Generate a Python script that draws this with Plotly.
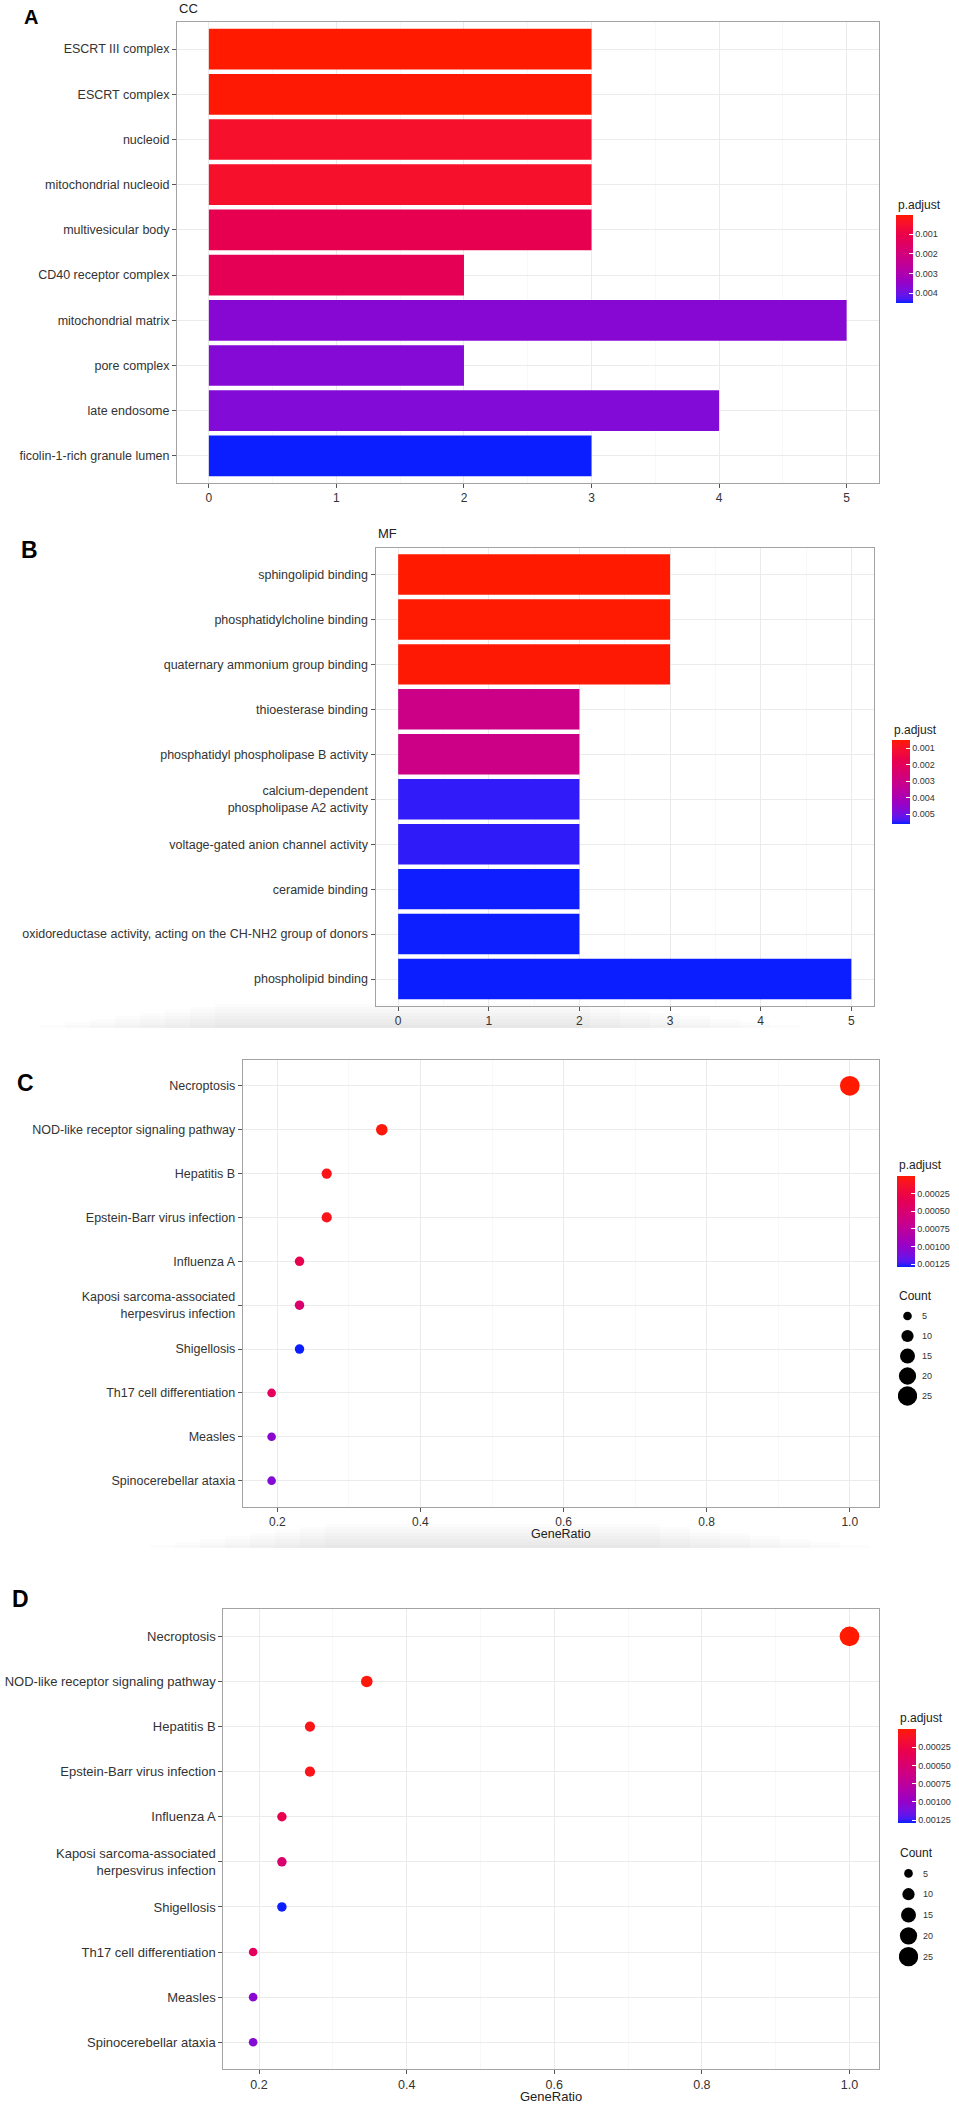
import plotly.graph_objects as go

W, H = 959, 2109

# ---------------- data ----------------
cc_terms = ["ESCRT III complex", "ESCRT complex", "nucleoid", "mitochondrial nucleoid",
            "multivesicular body", "CD40 receptor complex", "mitochondrial matrix",
            "pore complex", "late endosome", "ficolin-1-rich granule lumen"]
cc_count = [3, 3, 3, 3, 3, 2, 5, 2, 4, 3]
cc_padj = [0.000036, 0.00008, 0.00048, 0.00049, 0.00115, 0.00124, 0.00368, 0.00372, 0.00376, 0.0045]
cc_ticks = [0.001, 0.002, 0.003, 0.004]
cc_ticktext = ["0.001", "0.002", "0.003", "0.004"]

mf_terms = ["sphingolipid binding", "phosphatidylcholine binding",
            "quaternary ammonium group binding", "thioesterase binding",
            "phosphatidyl phospholipase B activity",
            "calcium-dependent<br>phospholipase A2 activity",
            "voltage-gated anion channel activity", "ceramide binding",
            "oxidoreductase activity, acting on the CH-NH2 group of donors",
            "phospholipid binding"]
mf_count = [3, 3, 3, 2, 2, 2, 2, 2, 2, 5]
mf_padj = [0.00050, 0.00052, 0.00055, 0.00300, 0.00301, 0.00545, 0.00546, 0.00558, 0.00559, 0.00560]
mf_ticks = [0.001, 0.002, 0.003, 0.004, 0.005]
mf_ticktext = ["0.001", "0.002", "0.003", "0.004", "0.005"]

kegg_terms = ["Necroptosis", "NOD-like receptor signaling pathway", "Hepatitis B",
              "Epstein-Barr virus infection", "Influenza A",
              "Kaposi sarcoma-associated<br>herpesvirus infection", "Shigellosis",
              "Th17 cell differentiation", "Measles", "Spinocerebellar ataxia"]
kegg_generatio = [1.0, 0.346, 0.269, 0.269, 0.231, 0.231, 0.231, 0.192, 0.192, 0.192]
kegg_count = [26, 9, 7, 7, 6, 6, 6, 5, 5, 5]
kegg_padj = [0.000001, 0.00003, 0.00006, 0.00007, 0.00032, 0.00049, 0.00129, 0.00038, 0.00104, 0.00107]
kegg_ticks = [0.00025, 0.0005, 0.00075, 0.001, 0.00125]
kegg_ticktext = ["0.00025", "0.00050", "0.00075", "0.00100", "0.00125"]
count_legend = [5, 10, 15, 20, 25]
generatio_ticks = [0.2, 0.4, 0.6, 0.8, 1.0]
generatio_ticktext = ["0.2", "0.4", "0.6", "0.8", "1.0"]

# ---------------- style helpers ----------------
FONT = "Liberation Sans, Arial, sans-serif"
TXT = "#333333"
GRID = "#EBEBEB"
MINOR = "#F3F3F3"
BORDER = "#A3A3A3"
SREF = 0.134


def fx(px):
    return px / W


def fy(py):
    return 1 - py / H


def srgb_to_lab(hexc):
    h = hexc.lstrip("#")
    rgb = [int(h[i:i + 2], 16) / 255 for i in (0, 2, 4)]
    lin = [c / 12.92 if c <= 0.04045 else ((c + 0.055) / 1.055) ** 2.4 for c in rgb]
    X = (0.4124 * lin[0] + 0.3576 * lin[1] + 0.1805 * lin[2]) / 0.95047
    Y = (0.2126 * lin[0] + 0.7152 * lin[1] + 0.0722 * lin[2])
    Z = (0.0193 * lin[0] + 0.1192 * lin[1] + 0.9505 * lin[2]) / 1.08883

    def f(t):
        return t ** (1 / 3) if t > 0.008856 else 7.787 * t + 16 / 116
    return (116 * f(Y) - 16, 500 * (f(X) - f(Y)), 200 * (f(Y) - f(Z)))


def lab_to_hex(L, a, b):
    fyv = (L + 16) / 116
    fxv = fyv + a / 500
    fzv = fyv - b / 200

    def finv(t):
        return t ** 3 if t ** 3 > 0.008856 else (t - 16 / 116) / 7.787
    X, Y, Z = 0.95047 * finv(fxv), finv(fyv), 1.08883 * finv(fzv)
    r = 3.2406 * X - 1.5372 * Y - 0.4986 * Z
    g = -0.9689 * X + 1.8758 * Y + 0.0415 * Z
    bb = 0.0557 * X - 0.2040 * Y + 1.0570 * Z
    out = []
    for c in (r, g, bb):
        c = min(max(c, 0), 1)
        c = 12.92 * c if c <= 0.0031308 else 1.055 * c ** (1 / 2.4) - 0.055
        out.append(int(round(min(max(c, 0), 1) * 255)))
    return "#%02x%02x%02x" % tuple(out)


def lab_scale(c0, c1, n=21):
    l0, l1 = srgb_to_lab(c0), srgb_to_lab(c1)
    return [[i / (n - 1), lab_to_hex(*[l0[k] + (l1[k] - l0[k]) * i / (n - 1) for k in range(3)])]
            for i in range(n)]


# colour axis shown reversed (low p.adjust = red at top): map -p.adjust
CSCALE = lab_scale("#0a1eff", "#ff1a00")


def cbar(x, top, bottom, thick, ticks, ticktext):
    return dict(x=fx(x), xanchor="left", y=fy(top), yanchor="top",
                len=bottom - top, lenmode="pixels", thickness=thick, thicknessmode="pixels",
                xpad=0, ypad=0, outlinewidth=0, ticks="inside", tickcolor="white", ticklen=4,
                tickvals=[-v for v in ticks], ticktext=ticktext,
                tickfont=dict(size=9, color=TXT, family=FONT))


fig = go.Figure()

# ---- A: CC bar ----
fig.add_trace(go.Bar(x=cc_count, y=cc_terms, orientation="h", width=0.9,
                     marker=dict(color=[-p for p in cc_padj], colorscale=CSCALE,
                                 cmin=-max(cc_padj), cmax=-min(cc_padj), line=dict(width=0),
                                 colorbar=cbar(896, 215, 303, 17, cc_ticks, cc_ticktext)),
                     xaxis="x", yaxis="y", hoverinfo="skip"))
# ---- B: MF bar ----
fig.add_trace(go.Bar(x=mf_count, y=mf_terms, orientation="h", width=0.9,
                     marker=dict(color=[-p for p in mf_padj], colorscale=CSCALE,
                                 cmin=-max(mf_padj), cmax=-min(mf_padj), line=dict(width=0),
                                 colorbar=cbar(892, 740, 824, 18, mf_ticks, mf_ticktext)),
                     xaxis="x2", yaxis="y2", hoverinfo="skip"))
# ---- C & D: KEGG dot plots ----
for ax, cb in (("3", cbar(897, 1176, 1267, 17.5, kegg_ticks, kegg_ticktext)),
               ("4", cbar(898, 1729, 1823, 18, kegg_ticks, kegg_ticktext))):
    fig.add_trace(go.Scatter(x=kegg_generatio, y=kegg_terms, mode="markers",
                             marker=dict(size=kegg_count, sizemode="area", sizeref=SREF,
                                         opacity=1,
                                         color=[-p for p in kegg_padj], colorscale=CSCALE,
                                         cmin=-max(kegg_padj), cmax=-min(kegg_padj),
                                         line=dict(width=0), colorbar=cb),
                             xaxis="x" + ax, yaxis="y" + ax, hoverinfo="skip"))
# ---- Count legends ----
for ax in ("5", "6"):
    fig.add_trace(go.Scatter(x=[1] * len(count_legend), y=[str(c) for c in count_legend],
                             mode="markers",
                             marker=dict(size=count_legend, sizemode="area", sizeref=SREF,
                                         opacity=1, color="black", line=dict(width=0)),
                             xaxis="x" + ax, yaxis="y" + ax, hoverinfo="skip"))


def xax(domain, anchor, rng, tickvals, ticktext, minor_dtick, size=12):
    return dict(domain=[fx(domain[0]), fx(domain[1])], anchor=anchor, range=rng,
                tickmode="array", tickvals=tickvals, ticktext=ticktext,
                showgrid=True, gridcolor=GRID, gridwidth=1,
                minor=dict(dtick=minor_dtick, tick0=0, showgrid=True, gridcolor=MINOR, gridwidth=0.6,
                           ticks=""),
                showline=True, mirror=True, linecolor=BORDER, linewidth=1,
                ticks="outside", ticklen=4, tickcolor="#555", tickwidth=1,
                tickfont=dict(size=size, color=TXT, family=FONT), zeroline=False, automargin=False,
                fixedrange=True)


def yax(domain, anchor, cats, size=12.5):
    n = len(cats)
    return dict(domain=[fy(domain[1]), fy(domain[0])], anchor=anchor, type="category",
                categoryorder="array", categoryarray=cats, range=[n - 0.4, -0.6],
                showgrid=True, gridcolor=GRID, gridwidth=1,
                showline=True, mirror=True, linecolor=BORDER, linewidth=1,
                ticks="outside", ticklen=4, tickcolor="#555", tickwidth=1,
                tickfont=dict(size=size, color=TXT, family=FONT), zeroline=False,
                automargin=False, fixedrange=True)


def legax(xd, yd, anchor):
    return (dict(domain=[fx(xd[0]), fx(xd[1])], anchor=anchor, range=[0, 2], visible=False,
                 fixedrange=True),
            dict(domain=[fy(yd[1]), fy(yd[0])], anchor=anchor, type="category",
                 categoryorder="array", categoryarray=[str(c) for c in count_legend],
                 range=[len(count_legend) - 0.5, -0.5], side="right", showgrid=False,
                 showline=False, zeroline=False, ticks="", ticklabelstandoff=4,
                 tickfont=dict(size=9, color=TXT, family=FONT), automargin=False, fixedrange=True))


lx5, ly5 = legax((898, 917), (1306, 1406), "x5")
lx6, ly6 = legax((899, 918), (1863, 1967), "x6")

# faint drop shadows under panels B and C (as in the scanned figure)
shapes = []
for (x0, x1, ybot) in ((40, 800, 1028), (150, 870, 1548)):
    for k in range(8):
        shapes.append(dict(type="rect", xref="paper", yref="paper", layer="below",
                           x0=fx(x0 + 25 * k), x1=fx(x1 - 30 * k),
                           y0=fy(ybot), y1=fy(ybot - 3 - 3 * k),
                           fillcolor="rgba(120,120,120,0.022)", line=dict(width=0)))

fig.update_layout(
    width=W, height=H, margin=dict(l=0, r=0, t=0, b=0),
    paper_bgcolor="white", plot_bgcolor="white", showlegend=False,
    font=dict(family=FONT, color=TXT), shapes=shapes,
    xaxis=xax((177, 878.5), "y", [-0.25, 5.25], [0, 1, 2, 3, 4, 5], ["0", "1", "2", "3", "4", "5"], 0.5),
    yaxis=yax((22, 483), "x", cc_terms),
    xaxis2=xax((375.5, 874), "y2", [-0.25, 5.25], [0, 1, 2, 3, 4, 5], ["0", "1", "2", "3", "4", "5"], 0.5),
    yaxis2=yax((547.5, 1006), "x2", mf_terms),
    xaxis3=xax((242.7, 878.7), "y3", [0.1516, 1.0404], generatio_ticks, generatio_ticktext, 0.1),
    yaxis3=yax((1059.5, 1507), "x3", kegg_terms),
    xaxis4=xax((223.3, 879.3), "y4", [0.1516, 1.0404], generatio_ticks, generatio_ticktext, 0.1,
               size=12.5),
    yaxis4=yax((1609.3, 2069.3), "x4", kegg_terms, size=13),
    xaxis5=lx5, yaxis5=ly5, xaxis6=lx6, yaxis6=ly6,
)

for t, x, y, s in (("A", 31, 17, 20), ("B", 29, 550, 23), ("C", 25, 1083, 23), ("D", 20, 1599, 23)):
    fig.add_annotation(text="<b>%s</b>" % t, x=fx(x), y=fy(y), xref="paper", yref="paper",
                       xanchor="center", yanchor="middle", showarrow=False,
                       font=dict(size=s, color="black", family=FONT))
for t, x, y, s in (("CC", 177, 8.5, 13), ("MF", 375.5, 533, 13),
                   ("p.adjust", 895.5, 205, 12), ("p.adjust", 891.5, 730, 12),
                   ("p.adjust", 896.5, 1165, 12), ("p.adjust", 897.5, 1717.5, 12),
                   ("Count", 896.5, 1295.5, 12), ("Count", 897.5, 1852.5, 12)):
    fig.add_annotation(text=t, x=fx(x), y=fy(y), xref="paper", yref="paper",
                       xanchor="left", yanchor="middle", showarrow=False,
                       font=dict(size=s, color="#222", family=FONT))
# axis titles
for x, y, s in ((560.7, 1534, 12.5), (551.3, 2096.5, 13)):
    fig.add_annotation(text="GeneRatio", x=fx(x), y=fy(y), xref="paper", yref="paper",
                       xanchor="center", yanchor="middle", showarrow=False,
                       font=dict(size=s, color="#222", family=FONT))

# remove the browser's default 8px body margin so the figure sits at the page origin
RESET = ("document.documentElement.style.margin='0';document.body.style.margin='0';"
         "document.body.style.padding='0';document.body.style.overflow='hidden';")

fig.write_html("out.html", config={"displayModeBar": False, "staticPlot": True}, post_script=RESET)
